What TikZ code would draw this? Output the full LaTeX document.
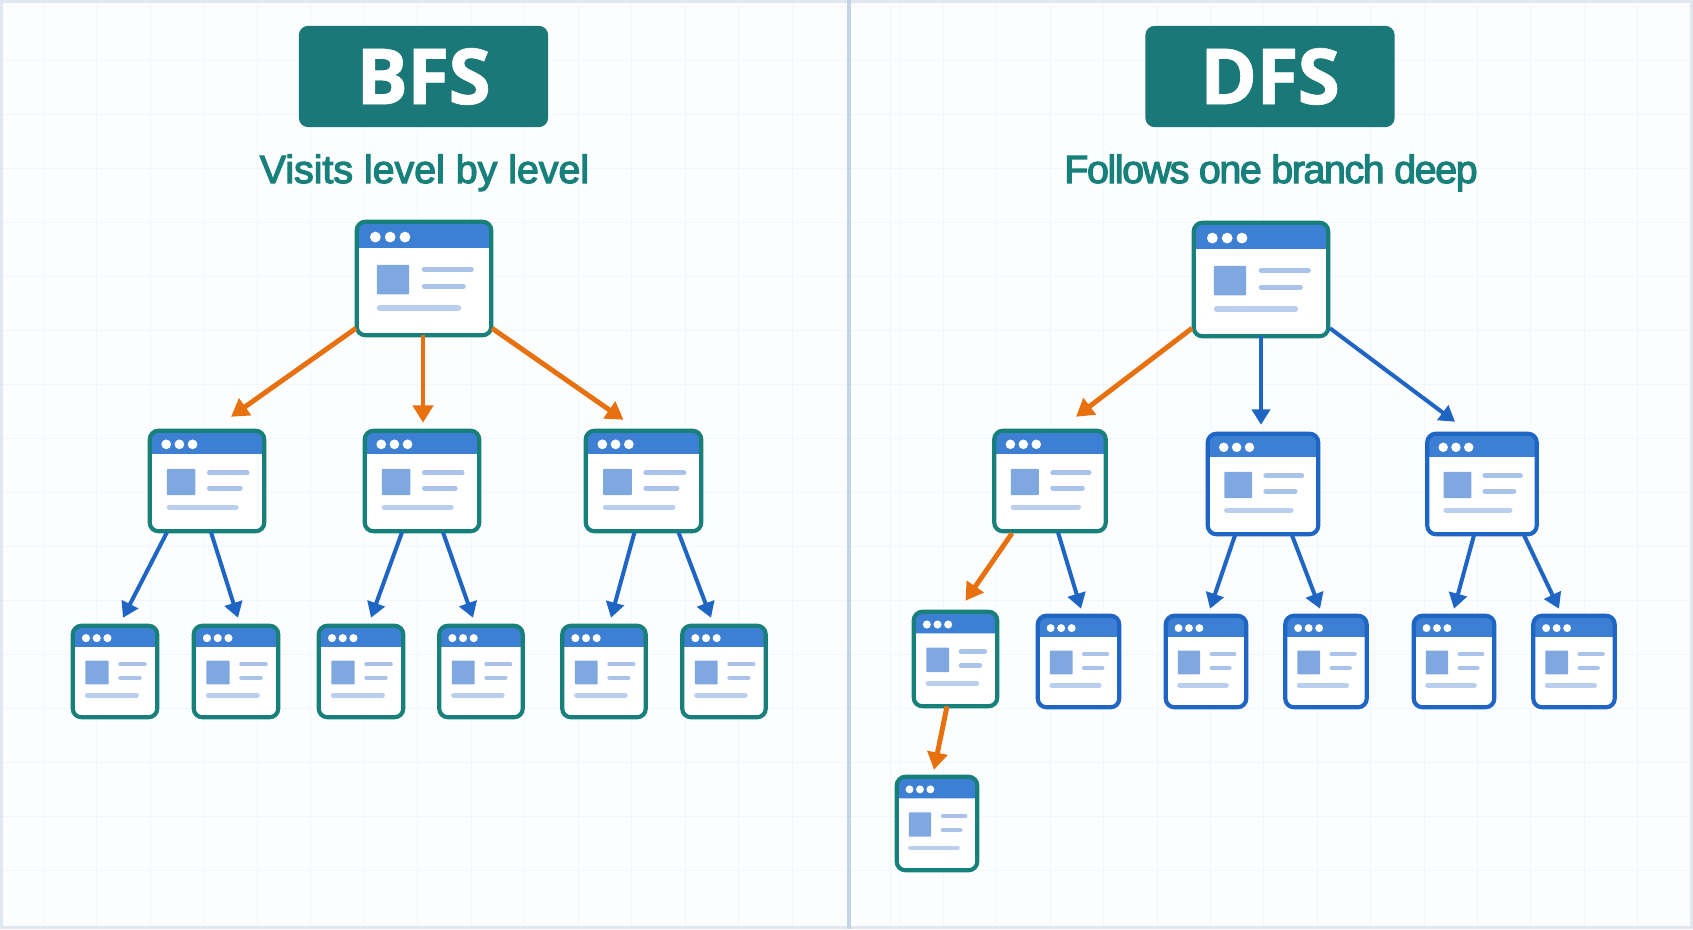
\documentclass[tikz,border=0pt]{standalone}
\usepackage{fontspec}
\setmainfont{Open Sans}[LetterSpace=-1.5,FakeBold=.8]
\newfontfamily\subfont{Liberation Sans}[FakeBold=3]
\usetikzlibrary{arrows.meta}
\definecolor{tealbox}{HTML}{1B7878}
\definecolor{tealline}{HTML}{17807A}
\definecolor{bluewin}{HTML}{1F66C4}
\definecolor{headblue}{HTML}{3D7FD2}
\definecolor{imgblue}{HTML}{7FA8E0}
\definecolor{barblue}{HTML}{A9C3EA}
\definecolor{orangearrow}{HTML}{E8710F}
\definecolor{gridcol}{HTML}{F4F7FA}
\definecolor{framecol}{HTML}{E0E7EE}
\definecolor{dividercol}{HTML}{C3D5E5}
\definecolor{paper}{HTML}{FCFDFE}
\tikzset{
  banner/.style={fill=tealbox,rounded corners=7pt,minimum width=187pt,minimum height=76pt,inner sep=0pt,text=white,font=\fontsize{58}{60}\selectfont\bfseries},
  subtitle/.style={text=tealline,inner sep=0pt,font=\fontsize{29.5}{32}\selectfont\subfont},
  win/.style={fill=white,rounded corners=6.5pt,inner sep=0pt,outer sep=0pt},
  visited/.style={draw=orangearrow,line width=3.7pt,-{Triangle[length=13pt,width=15pt]}},
  unvisited/.style={draw=bluewin,line width=3pt,-{Triangle[length=11.5pt,width=13.5pt]}},
  gridline/.style={draw=gridcol,line width=.75pt},
}
\newcommand{\webwin}[6]{
  \pgfmathsetmacro{\wx}{#4-3.5}
  \pgfmathsetmacro{\wy}{#5-3.5}
  \node[win,minimum width=\wx*.75pt,minimum height=\wy*.75pt] (#1) at (#2,#3) {};
  \begin{scope}[shift={(#1.north west)}]
    \fill[headblue] (0,.23*\wy) [rounded corners=6.5pt] -- (0,0) -- (\wx,0) [sharp corners] -- (\wx,.23*\wy) -- cycle;
    \foreach \dotk in {0,1,2}
      \fill[white] (.108*\wx+4.1+\dotk*.081*\wx+\dotk*3.9,.135*\wy) circle [radius=\wx*.02pt+1.35pt];
    \fill[imgblue,rounded corners=.6pt] (.15*\wx,.38*\wy) rectangle (.33*\wx+7.9,.64*\wy);
    \draw[barblue,line width=\wy*.037pt,line cap=round] (.4*\wx+13.9,.42*\wy) -- (.85*\wx,.42*\wy);
    \draw[barblue,line width=\wy*.037pt,line cap=round] (.4*\wx+13.9,.57*\wy) -- (.79*\wx,.57*\wy);
    \draw[barblue!80!white,line width=\wy*.037pt,line cap=round] (.17*\wx,.76*\wy) -- (.755*\wx,.76*\wy);
  \end{scope}
  \draw[#6,line width=3.1pt,rounded corners=6.5pt] (#1.south west) rectangle (#1.north east);
}
\begin{document}
\begin{tikzpicture}[x=.75pt,y=-.75pt]
  \useasboundingbox (0,0) rectangle (1693,929);
  \fill[paper] (0,0) rectangle (1693,929);
  \foreach \k in {0,...,16}
    \draw[gridline] (43+\k*53.5,3) -- (43+\k*53.5,926);
  \foreach \k in {0,...,14}
    \draw[gridline] (890+\k*53.4,3) -- (890+\k*53.4,926);
  \foreach \k in {0,...,16}
    \draw[gridline] (3,6+\k*54) -- (1690,6+\k*54);
  \draw[framecol,line width=2.2pt] (1.5,1.5) rectangle (1691.5,927.5);
  \fill[dividercol] (847,0) rectangle (851,929);

  \node[banner] (bfsbox) at (423.5,76.5) {BFS};
  \node[banner] (dfsbox) at (1270,76.5) {DFS};
  \node[subtitle,anchor=base] (bfstext) at (424.5,183) {Visits level by level};
  \node[subtitle,anchor=base] (dfstext) at (1271,183) {\addfontfeature{LetterSpace=-3.5}Follows one branch deep};

  \webwin{b0}{424}{278.5}{138}{117}{tealline}
  \webwin{b1}{207}{481}{118}{104}{tealline}
  \webwin{b2}{422}{481}{118}{104}{tealline}
  \webwin{b3}{643.5}{481}{119}{104}{tealline}
  \webwin{b4}{115}{671.5}{88}{95}{tealline}
  \webwin{b5}{236}{671.5}{88}{95}{tealline}
  \webwin{b6}{361}{671.5}{88}{95}{tealline}
  \webwin{b7}{481}{671.5}{87}{95}{tealline}
  \webwin{b8}{604}{671.5}{87}{95}{tealline}
  \webwin{b9}{724}{671.5}{87}{95}{tealline}

  \webwin{d0}{1261}{279.5}{138}{117}{tealline}
  \webwin{d1}{1050}{481}{115}{104}{tealline}
  \webwin{d2}{1263}{484}{114}{104}{bluewin}
  \webwin{d3}{1482}{484}{113}{104}{bluewin}
  \webwin{d4}{955.5}{659}{87}{98}{tealline}
  \webwin{d5}{1078.5}{661.5}{85}{95}{bluewin}
  \webwin{d6}{1206}{661.5}{84}{95}{bluewin}
  \webwin{d7}{1326}{661.5}{85}{95}{bluewin}
  \webwin{d8}{1454}{661.5}{84}{95}{bluewin}
  \webwin{d9}{1574}{661.5}{85}{95}{bluewin}
  \webwin{d10}{937}{823.5}{84}{97}{tealline}

\foreach \source /\sx /\sy /\dest /\dx /\dy in {b0/-68/-7/b1/24/-14,b0/-1/0/b2/1/-8,b0/68/-7/b3/-20/-11,d0/-69/-8/d1/26/-14,d1/-38/2/d4/10/-11,d4/-8.5/0/d10/-3/-7}
   \draw[visited] ([shift={(\sx,\sy)}]\source.south) -- ([shift={(\dx,\dy)}]\dest.north);
\foreach \source /\sx /\sy /\dest /\dx /\dy in {b1/-40/1/b4/8/-8,b1/4/1/b5/2/-8,b2/-20/1/b6/10/-8,b2/21/1/b7/-8/-8,b3/-9/1/b8/7/-8,b3/35/1/b9/-13/-8}
   \draw[unvisited] ([shift={(\sx,\sy)}]\source.south) -- ([shift={(\dx,\dy)}]\dest.north);
\foreach \source /\sx /\sy /\dest /\dx /\dy in {d0/0/0/d2/-2/-9,d0/69/-8/d3/-27/-12,d1/8/1/d5/2.5/-7,d2/-28/1/d6/4/-7,d2/29/1/d7/-6/-7,d3/-8/1/d8/0/-7,d3/42/1/d9/-15/-7}
   \draw[unvisited] ([shift={(\sx,\sy)}]\source.south) -- ([shift={(\dx,\dy)}]\dest.north);

\end{tikzpicture}
\end{document}
